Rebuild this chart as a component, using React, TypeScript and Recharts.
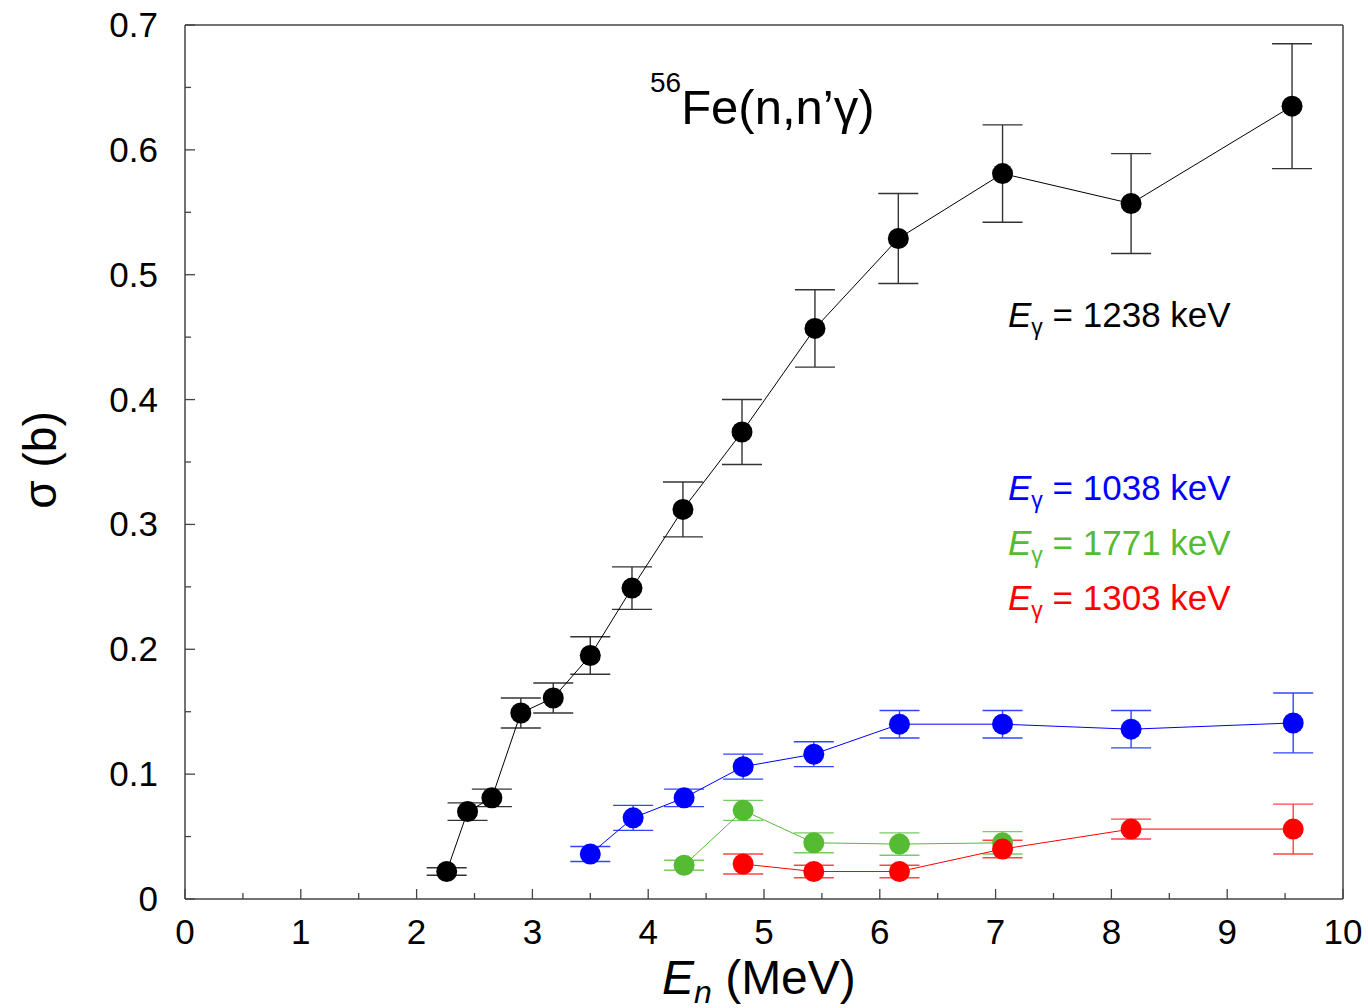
import React from "react";
import { ComposedChart, Scatter, ErrorBar, XAxis, YAxis } from "recharts";

// neutron energies (MeV), cross sections (b) and uncertainties, per gamma line
const en1238 = [2.26, 2.44, 2.65, 2.9, 3.18, 3.5, 3.86, 4.3, 4.81, 5.44, 6.16, 7.06, 8.17, 9.56];
const sig1238 = [0.022, 0.07, 0.081, 0.149, 0.161, 0.195, 0.249, 0.312, 0.374, 0.457, 0.529, 0.581, 0.557, 0.635];
const err1238 = [0.003, 0.007, 0.007, 0.012, 0.012, 0.015, 0.017, 0.022, 0.026, 0.031, 0.036, 0.039, 0.04, 0.05];

const en1038 = [3.5, 3.87, 4.31, 4.82, 5.43, 6.17, 7.06, 8.17, 9.57];
const sig1038 = [0.036, 0.065, 0.081, 0.106, 0.116, 0.14, 0.14, 0.136, 0.141];
const err1038 = [0.006, 0.01, 0.007, 0.01, 0.01, 0.011, 0.011, 0.015, 0.024];

const en1771 = [4.31, 4.82, 5.43, 6.17, 7.06];
const sig1771 = [0.027, 0.071, 0.045, 0.044, 0.045];
const err1771 = [0.004, 0.008, 0.008, 0.009, 0.009];

const en1303 = [4.82, 5.43, 6.17, 7.06, 8.17, 9.57];
const sig1303 = [0.028, 0.022, 0.022, 0.04, 0.056, 0.056];
const err1303 = [0.008, 0.005, 0.005, 0.007, 0.008, 0.02];

const xTicks = [0, 0.5, 1, 1.5, 2, 2.5, 3, 3.5, 4, 4.5, 5, 5.5, 6, 6.5, 7, 7.5, 8, 8.5, 9, 9.5, 10];
const yTicks = [0, 0.05, 0.1, 0.15, 0.2, 0.25, 0.3, 0.35, 0.4, 0.45, 0.5, 0.55, 0.6, 0.65, 0.7];

const toRows = (xs, ys, es) => xs.map((x, i) => ({ x, y: ys[i], err: es[i] }));

const series = [
  { name: "1238", color: "#000000", barColor: "#333333", data: toRows(en1238, sig1238, err1238) },
  { name: "1038", color: "#0000ff", barColor: "#3344ff", data: toRows(en1038, sig1038, err1038) },
  { name: "1771", color: "#55bb33", barColor: "#77cc66", data: toRows(en1771, sig1771, err1771) },
  { name: "1303", color: "#ff0000", barColor: "#ff4444", data: toRows(en1303, sig1303, err1303) },
];

const FONT = "'Liberation Sans', Arial, sans-serif";
const AXIS = "#444";

const isMajorX = (v) => Math.abs(v - Math.round(v)) < 1e-6;
const isMajorY = (v) => Math.abs(v * 10 - Math.round(v * 10)) < 1e-6;

const BottomTick = ({ x, y, payload }) => {
  const major = isMajorX(payload.value);
  return (
    <g>
      <line x1={x} x2={x} y1={y} y2={y - (major ? 10 : 6)} stroke={AXIS} strokeWidth={1.3} />
      {major && (
        <text x={x} y={y + 45} textAnchor="middle" fontSize={35} fontFamily={FONT} fill="#000">
          {payload.value}
        </text>
      )}
    </g>
  );
};

const TopTick = ({ x, y, payload }) => {
  const major = isMajorX(payload.value);
  return <line x1={x} x2={x} y1={y} y2={y + (major ? 10 : 6)} stroke={AXIS} strokeWidth={1.3} />;
};

const LeftTick = ({ x, y, payload }) => {
  const major = isMajorY(payload.value);
  return (
    <g>
      <line x1={x} x2={x + (major ? 10 : 6)} y1={y} y2={y} stroke={AXIS} strokeWidth={1.3} />
      {major && (
        <text x={x - 27} y={y + 12} textAnchor="end" fontSize={35} fontFamily={FONT} fill="#000">
          {payload.value === 0 ? "0" : payload.value.toFixed(1)}
        </text>
      )}
    </g>
  );
};

const RightTick = ({ x, y, payload }) => {
  const major = isMajorY(payload.value);
  return <line x1={x} x2={x - (major ? 10 : 6)} y1={y} y2={y} stroke={AXIS} strokeWidth={1.3} />;
};

const Dot = (color) => (props) => <circle cx={props.cx} cy={props.cy} r={10.5} fill={color} />;

const labels = [
  { name: "1238", color: "#000000", y: 327 },
  { name: "1038", color: "#0000ff", y: 500 },
  { name: "1771", color: "#55bb33", y: 555 },
  { name: "1303", color: "#ff0000", y: 610 },
];

export default function App() {
  return (
    <div style={{ position: "absolute", left: 0, top: 0, width: 1368, height: 1008, background: "#fff" }}>
      <ComposedChart width={1368} height={1008} margin={{ top: 24, right: 24, bottom: 0, left: 0 }}>
        <XAxis
          xAxisId="b"
          dataKey="x"
          type="number"
          domain={[0, 10]}
          ticks={xTicks}
          interval={0}
          height={109}
          tickSize={0}
          tickMargin={0}
          tickLine={false}
          tick={BottomTick}
          axisLine={{ stroke: AXIS, strokeWidth: 1.5 }}
        />
        <XAxis
          xAxisId="t"
          orientation="top"
          dataKey="x"
          type="number"
          domain={[0, 10]}
          ticks={xTicks}
          interval={0}
          height={1}
          tickSize={0}
          tickMargin={0}
          tickLine={false}
          tick={TopTick}
          axisLine={{ stroke: AXIS, strokeWidth: 1.5 }}
        />
        <YAxis
          yAxisId="l"
          type="number"
          domain={[0, 0.7]}
          ticks={yTicks}
          interval={0}
          width={185}
          tickSize={0}
          tickMargin={0}
          tickLine={false}
          tick={LeftTick}
          axisLine={{ stroke: AXIS, strokeWidth: 1.5 }}
        />
        <YAxis
          yAxisId="r"
          orientation="right"
          type="number"
          domain={[0, 0.7]}
          ticks={yTicks}
          interval={0}
          width={1}
          tickSize={0}
          tickMargin={0}
          tickLine={false}
          tick={RightTick}
          axisLine={{ stroke: AXIS, strokeWidth: 1.5 }}
        />
        {series.map((s) => (
          <Scatter
            key={s.name}
            xAxisId="b"
            yAxisId="l"
            data={s.data}
            dataKey="y"
            line={{ stroke: s.color, strokeWidth: 1 }}
            lineType="joint"
            shape={Dot(s.color)}
            isAnimationActive={false}
          >
            <ErrorBar dataKey="err" direction="y" width={20} stroke={s.barColor} strokeWidth={1.4} />
          </Scatter>
        ))}
      </ComposedChart>
      <svg
        width={1368}
        height={1008}
        style={{ position: "absolute", left: 0, top: 0, pointerEvents: "none" }}
        fontFamily={FONT}
      >
        <text x={650} y={124} fontSize={49} fill="#000">
          <tspan fontSize={28} dy={-32}>56</tspan>
          <tspan dy={32}>Fe(n,n’γ)</tspan>
        </text>
        {labels.map((l) => (
          <text key={l.name} x={1008} y={l.y} fontSize={35} fill={l.color}>
            <tspan fontStyle="italic">E</tspan>
            <tspan fontSize={23} dy={8}>γ</tspan>
            <tspan dy={-8}>{` = ${l.name} keV`}</tspan>
          </text>
        ))}
        <text x={662} y={994} fontSize={48} fill="#000">
          <tspan fontStyle="italic">E</tspan>
          <tspan fontStyle="italic" fontSize={32} dy={9}>n</tspan>
          <tspan dy={-9}>{" (MeV)"}</tspan>
        </text>
        <text
          x={0}
          y={0}
          fontSize={46}
          fill="#000"
          textAnchor="middle"
          transform="translate(56 460) rotate(-90)"
        >
          σ (b)
        </text>
      </svg>
    </div>
  );
}
